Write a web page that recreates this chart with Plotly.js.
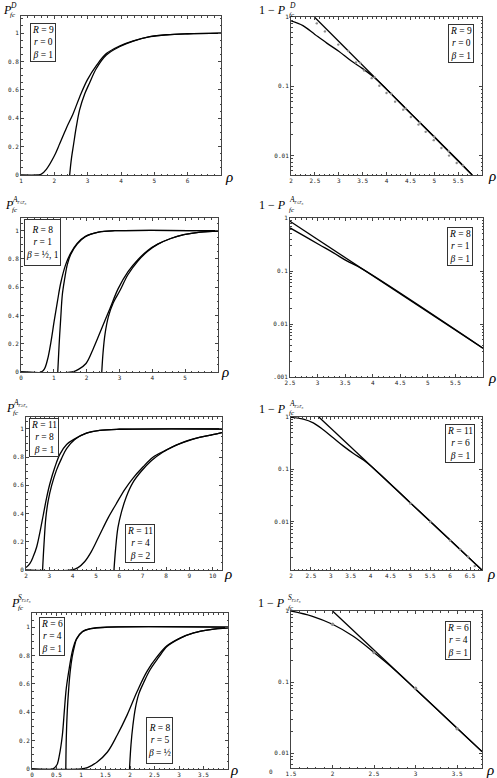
<!DOCTYPE html>
<html><head><meta charset="utf-8">
<script src="https://cdn.plot.ly/plotly-3.0.1.min.js"></script>
<style>html,body{margin:0;padding:0;background:#fff}#chart{width:497px;height:778px}</style>
</head><body><div id="chart"></div>
<script>
// ---------- data ----------
// Panel 1: P_fc^D (R=9, r=0, beta=1)
const p1SmoothX = [1, 1.5, 1.6, 1.76, 1.99, 2.16, 2.36, 2.56, 2.76, 2.99, 3.26, 3.56, 3.97, 4.37, 4.87, 5.37, 6.0, 7.0];
const p1SmoothY = [0, 0, 0.004, 0.04, 0.13, 0.22, 0.33, 0.43, 0.55, 0.67, 0.77, 0.855, 0.91, 0.945, 0.975, 0.988, 0.995, 1.0];
const p1ApproxX = [2.46, 2.51, 2.58, 2.66, 2.76, 2.91, 3.06, 3.26, 3.56, 3.97, 4.37, 4.87, 5.37, 6.0, 7.0];
const p1ApproxY = [0, 0.11, 0.22, 0.34, 0.46, 0.57, 0.65, 0.75, 0.845, 0.905, 0.943, 0.974, 0.988, 0.995, 1.0];
// Panel 2: 1 - P_fc^D (log)
const p2CurveX = [2.0, 2.25, 2.5, 2.75, 3.0, 3.25, 3.5, 3.75, 4.0, 4.5, 5.0, 5.5, 5.8];
const p2CurveY = [0.88, 0.75, 0.56, 0.42, 0.32, 0.235, 0.18, 0.133, 0.091, 0.041, 0.0187, 0.0085, 0.0052];
const p2LineX = [2.49, 5.8];
const p2LineY = [1, 0.0052];
const p2DotX = [2.54, 2.71, 2.99, 3.36, 3.53, 3.69, 3.85, 4.0, 4.18, 4.35, 4.51, 4.67, 4.82, 4.99, 5.15, 5.31, 5.47,
                3.2, 3.45, 3.75, 4.1, 4.4, 4.7, 5.0, 5.3, 5.6];
const p2DotY = [0.81, 0.62, 0.40, 0.22, 0.169, 0.131, 0.102, 0.080, 0.060, 0.046, 0.036, 0.028, 0.022, 0.0167, 0.0129, 0.010, 0.0078,
                0.324, 0.218, 0.135, 0.078, 0.048, 0.030, 0.0187, 0.0116, 0.0072];
// Panel 3: P_fc^{A r<=r0} (R=8, r=1, beta=1/2,1)
const p3Smooth1X = [0, 0.61, 0.71, 0.81, 0.91, 1.01, 1.11, 1.21, 1.36, 1.51, 1.71, 1.96, 2.36, 2.86, 6.0];
const p3Smooth1Y = [0, 0, 0.02, 0.09, 0.21, 0.36, 0.50, 0.63, 0.76, 0.84, 0.91, 0.96, 0.99, 1.0, 1.0];
const p3Approx1X = [1.12, 1.16, 1.21, 1.26, 1.33, 1.41, 1.51, 1.71, 1.96, 2.36, 2.86, 6.0];
const p3Approx1Y = [0, 0.19, 0.38, 0.55, 0.66, 0.76, 0.83, 0.905, 0.957, 0.99, 1.0, 1.0];
const p3Smooth2X = [0, 1.56, 1.76, 1.98, 2.21, 2.46, 2.71, 2.96, 3.26, 3.56, 3.86, 4.16, 4.56, 4.96, 5.46, 6.0];
const p3Smooth2Y = [0, 0, 0.02, 0.06, 0.17, 0.31, 0.45, 0.59, 0.71, 0.795, 0.86, 0.905, 0.945, 0.972, 0.99, 0.997];
const p3Approx2X = [2.46, 2.50, 2.56, 2.66, 2.81, 3.01, 3.26, 3.56, 3.86, 4.16, 4.56, 4.96, 5.46, 6.0];
const p3Approx2Y = [0, 0.14, 0.27, 0.39, 0.49, 0.575, 0.69, 0.785, 0.855, 0.903, 0.945, 0.972, 0.99, 0.997];
// Panel 4: 1 - P_fc^{A r<=r0} (log)
const p4LineX = [2.5, 6.0];
const p4LineY = [0.865, 0.0035];
const p4CurveX = [2.5, 2.77, 3.04, 3.29, 3.53, 3.8, 6.0];
const p4CurveY = [0.65, 0.45, 0.31, 0.22, 0.155, 0.111, 0.0035];
// Panel 5: P_fc^{A r>=r0}
const p5Smooth1X = [2.0, 2.17, 2.31, 2.46, 2.6, 2.74, 2.88, 3.02, 3.24, 3.45, 3.74, 4.09, 4.59, 5.16, 6.0, 10.4];
const p5Smooth1Y = [0.017, 0.047, 0.095, 0.165, 0.27, 0.39, 0.51, 0.61, 0.73, 0.82, 0.89, 0.93, 0.97, 0.99, 0.998, 1.0];
const p5Approx1X = [2.71, 2.77, 2.85, 2.95, 3.1, 3.31, 3.52, 3.74, 4.09, 4.59, 5.16, 6.0, 10.4];
const p5Approx1Y = [0, 0.18, 0.37, 0.49, 0.60, 0.71, 0.79, 0.86, 0.925, 0.97, 0.99, 0.998, 1.0];
const p5Smooth2X = [2, 3.95, 4.23, 4.52, 4.8, 5.16, 5.52, 5.87, 6.23, 6.58, 7.01, 7.44, 8.0, 8.72, 9.43, 10.0, 10.4];
const p5Smooth2Y = [0, 0, 0.017, 0.06, 0.13, 0.25, 0.37, 0.47, 0.57, 0.65, 0.73, 0.80, 0.85, 0.905, 0.94, 0.96, 0.975];
const p5Approx2X = [5.77, 5.84, 5.94, 6.09, 6.3, 6.58, 6.94, 7.37, 7.86, 8.3, 8.72, 9.43, 10.0, 10.4];
const p5Approx2Y = [0, 0.15, 0.30, 0.41, 0.52, 0.62, 0.70, 0.775, 0.835, 0.875, 0.903, 0.94, 0.96, 0.975];
// Panel 6: 1 - P_fc^{A r>=r0} (log)
const p6LineX = [2.70, 6.8];
const p6LineY = [1, 0.00117];
const p6CurveX = [2.0, 2.31, 2.56, 2.81, 3.06, 3.31, 3.57, 3.82, 4.1, 5.0, 6.0, 6.8];
const p6CurveY = [0.98, 0.91, 0.77, 0.57, 0.40, 0.28, 0.2, 0.15, 0.1, 0.0227, 0.0044, 0.00117];
const p6DotX = [5.0, 5.5, 6.0, 6.25, 6.45, 6.62];
const p6DotY = [0.022, 0.0098, 0.0043, 0.0029, 0.0021, 0.0014];
// Panel 7: P_fc^{S r>=r0}
const p7Smooth1X = [0, 0.42, 0.51, 0.56, 0.62, 0.66, 0.70, 0.76, 0.83, 0.91, 1.03, 1.2, 1.54, 4.0];
const p7Smooth1Y = [0, 0, 0.03, 0.10, 0.24, 0.41, 0.57, 0.71, 0.84, 0.92, 0.97, 0.99, 1.0, 1.0];
const p7Approx1X = [0.69, 0.70, 0.72, 0.75, 0.78, 0.82, 0.87, 0.91, 1.03, 1.2, 1.54, 4.0];
const p7Approx1Y = [0, 0.22, 0.41, 0.57, 0.69, 0.79, 0.87, 0.915, 0.968, 0.99, 1.0, 1.0];
const p7Smooth2X = [0, 1.0, 1.13, 1.33, 1.54, 1.74, 1.94, 2.15, 2.35, 2.55, 2.76, 3.03, 3.3, 3.64, 4.0];
const p7Smooth2Y = [0, 0, 0.01, 0.05, 0.12, 0.24, 0.38, 0.55, 0.69, 0.79, 0.87, 0.925, 0.96, 0.983, 0.995];
const p7Approx2X = [1.99, 2.02, 2.06, 2.11, 2.18, 2.28, 2.41, 2.58, 2.76, 3.03, 3.3, 3.64, 4.0];
const p7Approx2Y = [0, 0.17, 0.31, 0.43, 0.53, 0.61, 0.70, 0.785, 0.865, 0.923, 0.96, 0.983, 0.995];
// Panel 8: 1 - P_fc^{S r>=r0} (log)
const p8LineX = [2.0, 3.8];
const p8LineY = [1, 0.0105];
const p8CurveX = [1.5, 1.75, 2.0, 2.25, 2.5, 2.75, 3.0, 3.5, 3.8];
const p8CurveY = [1.0, 0.85, 0.65, 0.44, 0.26, 0.148, 0.079, 0.0224, 0.0105];
const p8DotX = [2.0, 2.5, 3.0, 3.5];
const p8DotY = [0.65, 0.26, 0.082, 0.022];

// tick labels
const ticksX1 = [1, 2, 3, 4, 5, 6];
const ticksX2 = [2, 2.5, 3, 3.5, 4, 4.5, 5, 5.5];
const ticksX3 = [0, 1, 2, 3, 4, 5];
const ticksX4 = [2.5, 3, 3.5, 4, 4.5, 5, 5.5];
const ticksX5 = [2, 3, 4, 5, 6, 7, 8, 9, 10];
const ticksX6 = [2, 2.5, 3, 3.5, 4, 4.5, 5, 5.5, 6, 6.5];
const ticksX7 = [0, 0.5, 1, 1.5, 2, 2.5, 3, 3.5];
const ticksX8 = [1.5, 2, 2.5, 3, 3.5];
const ticksYLin = [0, 0.2, 0.4, 0.6, 0.8, 1];
const ticksYLinText = ['0', '0.2', '0.4', '0.6', '0.8', '1'];
const ticksYLog3 = [1, 0.1, 0.01];
const ticksYLog3Text = ['1', '0.1', '0.01'];
const ticksYLog4 = [1, 0.1, 0.01, 0.001];
const ticksYLog4Text = ['1', '0.1', '0.01', '.001'];

// ---------- layout helpers ----------
const W = 497, H = 778;
const fx = p => p / W;
const fy = p => 1 - p / H;
const FRAME = '#444';
const TICKFONT = {family: 'DejaVu Sans Mono', size: 6, color: '#222'};
const SERIF = 'Liberation Serif';

function linMinor(r, step) {
  const out = [];
  const s = Math.ceil(r[0] / step - 1e-9);
  for (let k = s; k * step <= r[1] + 1e-9; k++) out.push(+(k * step).toFixed(6));
  return out;
}
function logMinor(lo, hi) {
  const out = [];
  for (let e = Math.floor(lo); e <= Math.ceil(hi); e++)
    for (let m = 2; m <= 9; m++) { const v = m * Math.pow(10, e); if (Math.log10(v) >= lo && Math.log10(v) <= hi) out.push(v); }
  return out;
}

const panels = [
  {box: [21, 221, 16, 175], xr: [1, 7], xt: ticksX1, xm: 0.2, yr: [0, 1.12], log: false},
  {box: [291, 482, 17, 175], xr: [2, 6], xt: ticksX2, xm: 0.1, yr: [-2.28, 0], log: true, yt: ticksYLog3, ytt: ticksYLog3Text},
  {box: [21, 218, 218, 372], xr: [0, 6], xt: ticksX3, xm: 0.2, yr: [0, 1.09], log: false},
  {box: [290, 483, 218, 377], xr: [2.5, 6], xt: ticksX4, xm: 0.1, yr: [-3, 0], log: true, yt: ticksYLog4, ytt: ticksYLog4Text},
  {box: [26, 222, 417, 570], xr: [2, 10.4], xt: ticksX5, xm: 0.2, yr: [0, 1.085], log: false},
  {box: [291, 482, 417, 570], xr: [2, 6.8], xt: ticksX6, xm: 0.1, yr: [-2.93, 0], log: true, yt: ticksYLog3, ytt: ticksYLog3Text},
  {box: [32, 228, 613, 769], xr: [0, 4], xt: ticksX7, xm: 0.1, yr: [0, 1.1], log: false},
  {box: [291, 482, 611, 768], xr: [1.5, 3.8], xt: ticksX8, xm: 0.1, yr: [-2.21, 0], log: true, yt: ticksYLog3, ytt: ticksYLog3Text}
];

const layout = {
  width: W, height: H, margin: {l: 0, r: 0, t: 0, b: 0},
  paper_bgcolor: '#fff', plot_bgcolor: '#fff', showlegend: false,
  annotations: []
};

panels.forEach((p, i) => {
  const n = i + 1, sfx = n === 1 ? '' : String(n);
  const common = {
    showline: true, linecolor: FRAME, linewidth: 1, mirror: 'allticks',
    ticks: 'inside', ticklen: 3, tickwidth: 1, tickcolor: FRAME,
    showgrid: false, zeroline: false, tickfont: TICKFONT, fixedrange: true
  };
  layout['xaxis' + sfx] = Object.assign({}, common, {
    domain: [fx(p.box[0]), fx(p.box[1])], anchor: 'y' + sfx, range: p.xr,
    tickmode: 'array', tickvals: p.xt, ticktext: p.xt.map(String),
    minor: {ticks: 'inside', ticklen: 1.5, tickcolor: FRAME, tickmode: 'array', tickvals: linMinor(p.xr, p.xm), showgrid: false}
  });
  const ya = Object.assign({}, common, {
    domain: [fy(p.box[3]), fy(p.box[2])], anchor: 'x' + sfx, range: p.yr
  });
  if (p.log) {
    ya.type = 'log';
    ya.tickmode = 'array'; ya.tickvals = p.yt; ya.ticktext = p.ytt;
    ya.minor = {ticks: 'inside', ticklen: 1.5, tickcolor: FRAME, tickmode: 'array', tickvals: logMinor(p.yr[0], p.yr[1]), showgrid: false};
  } else {
    ya.tickmode = 'array'; ya.tickvals = ticksYLin; ya.ticktext = ticksYLinText;
    ya.minor = {ticks: 'inside', ticklen: 1.5, tickcolor: FRAME, tickmode: 'array', tickvals: linMinor(p.yr, 0.05), showgrid: false};
  }
  layout['yaxis' + sfx] = ya;
});

// ---------- traces ----------
const traces = [];
function curve(n, x, y, smooth) {
  const sfx = n === 1 ? '' : String(n);
  traces.push({x, y, xaxis: 'x' + sfx, yaxis: 'y' + sfx, mode: 'lines', hoverinfo: 'skip',
    line: {color: '#000', width: 1.3, shape: smooth ? 'spline' : 'linear', smoothing: 1}});
}
function dots(n, x, y, size) {
  const sfx = n === 1 ? '' : String(n);
  traces.push({x, y, xaxis: 'x' + sfx, yaxis: 'y' + sfx, mode: 'markers', hoverinfo: 'skip',
    marker: {color: '#8c8c8c', size: size || 2.6}});
}
curve(1, p1SmoothX, p1SmoothY, true); curve(1, p1ApproxX, p1ApproxY, true);
curve(2, p2CurveX, p2CurveY, true); curve(2, p2LineX, p2LineY, false); dots(2, p2DotX, p2DotY, 2.4);
curve(3, p3Smooth1X, p3Smooth1Y, true); curve(3, p3Approx1X, p3Approx1Y, true);
curve(3, p3Smooth2X, p3Smooth2Y, true); curve(3, p3Approx2X, p3Approx2Y, true);
curve(4, p4CurveX, p4CurveY, true); curve(4, p4LineX, p4LineY, false);
curve(5, p5Smooth1X, p5Smooth1Y, true); curve(5, p5Approx1X, p5Approx1Y, true);
curve(5, p5Smooth2X, p5Smooth2Y, true); curve(5, p5Approx2X, p5Approx2Y, true);
curve(6, p6CurveX, p6CurveY, true); curve(6, p6LineX, p6LineY, false); dots(6, p6DotX, p6DotY, 2.6);
curve(7, p7Smooth1X, p7Smooth1Y, true); curve(7, p7Approx1X, p7Approx1Y, true);
curve(7, p7Smooth2X, p7Smooth2Y, true); curve(7, p7Approx2X, p7Approx2Y, true);
curve(8, p8CurveX, p8CurveY, true); curve(8, p8LineX, p8LineY, false); dots(8, p8DotX, p8DotY, 3.4);

// ---------- annotations ----------
const A = layout.annotations;
function txt(text, x, y, size, opts) {
  A.push(Object.assign({text, x: fx(x), y: fy(y), xref: 'paper', yref: 'paper', showarrow: false,
    xanchor: 'left', yanchor: 'middle', borderpad: 0, font: {family: SERIF, size, color: '#000'}}, opts || {}));
}
function yTitle(main, sup, xMain, yMain, xs) {
  txt(main, xMain, yMain, 12);
  txt(sup, xs, yMain - 5, 7.5);
  txt('<i>fc</i>', xs, yMain + 4.5, 7);
}
const supD = '<i>D</i>';
const supAle = '<i>A</i><sub><i>r</i>≤<i>r</i>₀</sub>';
const supAge = '<i>A</i><sub><i>r</i>≥<i>r</i>₀</sub>';
const supSge = '<i>S</i><sub><i>r</i>≥<i>r</i>₀</sub>';
yTitle('<i>P</i>', supD, 2, 10, 9);
yTitle('1 − <i>P</i>', supD, 258, 10, 288);
yTitle('<i>P</i>', supAle, 4, 205, 11);
yTitle('1 − <i>P</i>', supAle, 258, 205, 288);
yTitle('<i>P</i>', supAge, 5, 408, 12);
yTitle('1 − <i>P</i>', supAge, 258, 409, 288);
yTitle('<i>P</i>', supSge, 10, 603, 17);
yTitle('1 − <i>P</i>', supSge, 257, 603, 287);

// rho labels
[[229, 177], [492, 176], [225, 372], [492, 378], [228, 574], [491, 574], [234, 770], [490, 770]]
  .forEach(([x, y]) => txt('<i>ρ</i>', x, y, 15, {xanchor: 'center'}));

// stray "0" label in last panel
txt('0', 271, 771, 6, {xanchor: 'center', font: {family: 'DejaVu Sans Mono', size: 6, color: '#222'}});

// parameter boxes
function pbox(text, x0, x1, y0, y1, fixH) {
  const a = {text, x: fx((x0 + x1) / 2), y: fy((y0 + y1) / 2), xref: 'paper', yref: 'paper', showarrow: false,
    xanchor: 'center', yanchor: 'middle', align: 'center', valign: 'middle',
    borderpad: 1, borderwidth: 1, bordercolor: '#333', bgcolor: '#fff',
    font: {family: SERIF, size: 9.5, color: '#000'}};
  if (fixH) a.height = y1 - y0 - 4;
  A.push(a);
}
pbox('<i>R</i> = 9<br><i>r</i> = 0<br><i>β</i> = 1', 29, 57, 24, 61);
pbox('<i>R</i> = 9<br><i>r</i> = 0<br><i>β</i> = 1', 444, 478, 24, 62);
pbox('<i>R</i> = 8<br><i>r</i> = 1<br><i>β</i> = ½, 1', 26, 58, 219, 266, true);
pbox('<i>R</i> = 8<br><i>r</i> = 1<br><i>β</i> = 1', 443, 477, 227, 266);
pbox('<i>R</i> = 11<br><i>r</i> = 8<br><i>β</i> = 1', 28, 60, 418, 457);
pbox('<i>R</i> = 11<br><i>r</i> = 4<br><i>β</i> = 2', 123, 156, 522, 565);
pbox('<i>R</i> = 11<br><i>r</i> = 6<br><i>β</i> = 1', 443, 477, 422, 465);
pbox('<i>R</i> = 6<br><i>r</i> = 4<br><i>β</i> = 1', 36, 68, 615, 658);
pbox('<i>R</i> = 8<br><i>r</i> = 5<br><i>β</i> = ½', 143, 176, 717, 764, true);
pbox('<i>R</i> = 6<br><i>r</i> = 4<br><i>β</i> = 1', 443, 473, 620, 660);

Plotly.newPlot('chart', traces, layout, {staticPlot: true, displayModeBar: false});
</script>
</body></html>
